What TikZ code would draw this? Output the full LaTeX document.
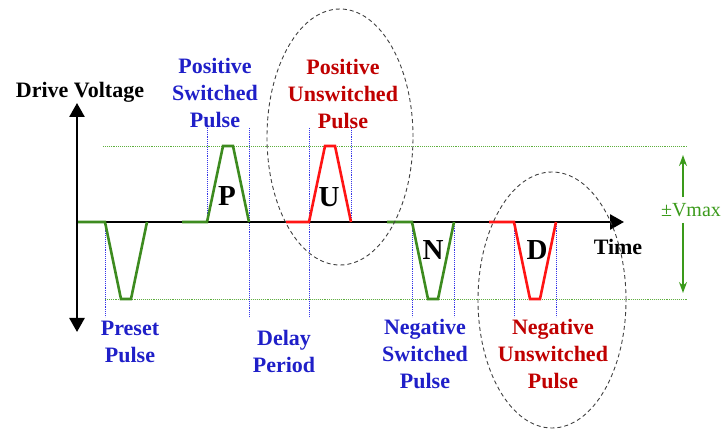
\documentclass[tikz,border=0pt]{standalone}
\usepackage{fontspec}
\setmainfont{Liberation Serif}
\usetikzlibrary{arrows.meta}
\definecolor{pgrn}{HTML}{3D8B1F}
\definecolor{pred}{HTML}{FF1414}
\definecolor{tred}{HTML}{C00000}
\definecolor{tblue}{HTML}{1F1FC8}
\definecolor{dblue}{HTML}{3535E8}
\definecolor{dgrn}{HTML}{5FAF3F}
\definecolor{vgrn}{HTML}{3A9A1A}
\tikzset{
  ax/.style={line width=2.6pt},
  pulse/.style={line width=2.6pt, line join=miter},
  guide/.style={dblue, densely dotted, line width=0.9pt},
  lvl/.style={dgrn, densely dotted, line width=0.9pt},
  zone/.style={black!75, line width=0.9pt, dash pattern=on 4pt off 3pt},
  lab/.style={font=\fontsize{22}{27}\selectfont\bfseries, align=center},
  ltr/.style={font=\fontsize{29}{30}\selectfont\bfseries},
  vm/.style={vgrn, line width=1.4pt, -{Stealth[length=11pt,width=8pt]}},
}

\begin{document}
\begin{tikzpicture}[x=1pt,y=-1pt]
  \useasboundingbox (0,0) rectangle (721,430);
  \coordinate (o) at (77,222);
  \coordinate (vtop) at (77,103);
  \coordinate (vbot) at (77,332);
  \coordinate (tend) at (624,222);
  % levels and guides
  \draw[lvl] (103,146) -- (688,146);
  \draw[lvl] (105,299) -- (688,299);
  \foreach \x/\a/\b in {105/222/317,207/128/222,249/128/317,309/128/317,351/128/222,412/222/317,454/222/317,514/222/317,556/222/317}
    \draw[guide] (\x,\a) -- (\x,\b);
  % axes and pulses
  \draw[ax, -{Triangle[length=14pt,width=15pt]}] (o) -- (tend);
  \foreach \s/\r/\v/\c in {77/105/299/pgrn,182/207/146/pgrn,286/309/146/pred,387/412/299/pgrn,489/514/299/pred}
    \draw[pulse,\c] (\s,222) -- (\r,222) -- (\r+16,\v) -- (\r+26,\v) -- (\r+42,222);
  \draw[ax, {Triangle[length=14pt,width=15pt]}-{Triangle[length=14pt,width=15pt]}] (vtop) -- (vbot);
  % unswitched zones
  \draw[zone] (340,137) ellipse [x radius=73pt, y radius=128pt];
  \draw[zone] (552,300) ellipse [x radius=74pt, y radius=128pt];
  % labels
  \node[lab] (dv) at (80,92) {Drive Voltage};
  \node[lab] (tm) at (618,247) {Time};
  \node[lab, tblue] (psp) at (215,93) {Positive\\Switched\\Pulse};
  \node[lab, tred] (pup) at (343,94) {Positive\\Unswitched\\Pulse};
  \node[lab, tblue] (pre) at (130,342) {Preset\\Pulse};
  \node[lab, tblue] (dly) at (284,351) {Delay\\Period};
  \node[lab, tblue] (nsp) at (425,354) {Negative\\Switched\\Pulse};
  \node[lab, tred] (nup) at (553,354) {Negative\\Unswitched\\Pulse};
  \node[ltr] (lp) at (227,196) {P};
  \node[ltr] (lu) at (329,197) {U};
  \node[ltr] (ln) at (433,250) {N};
  \node[ltr] (ld) at (537,250) {D};
  % max swing
  \coordinate (vt) at (683,155);
  \coordinate (vb) at (683,293);
  \node[vgrn, font=\fontsize{20}{20}\selectfont, inner sep=6pt] (vmax) at (691,210) {±Vmax};
  \draw[vm] (vmax.north -| vt) -- (vt);
  \draw[vm] (vmax.south -| vb) -- (vb);
\end{tikzpicture}
\end{document}
